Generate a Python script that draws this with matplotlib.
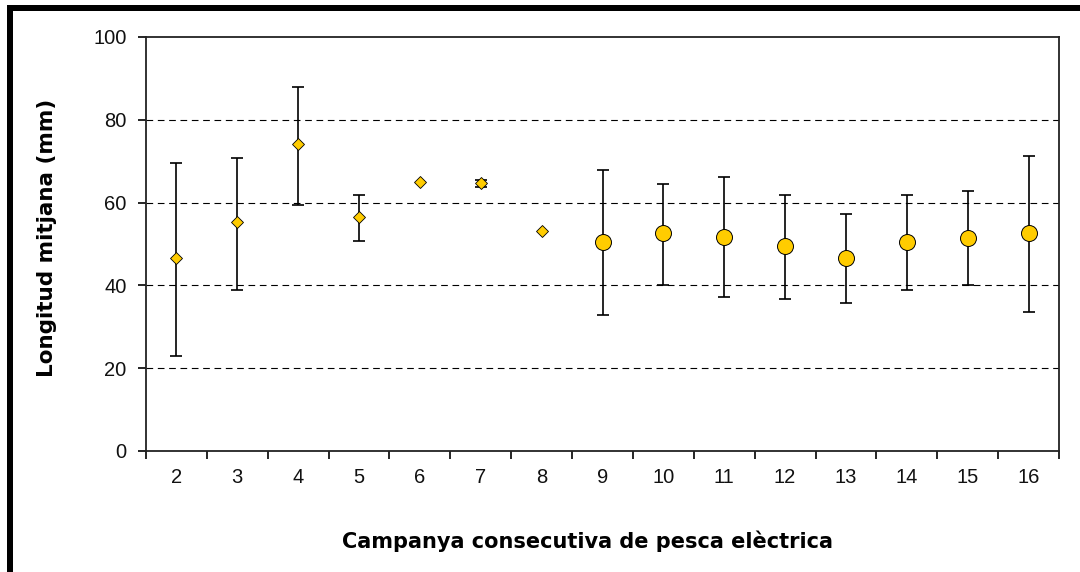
import numpy as np
import matplotlib
matplotlib.use("Agg")
import matplotlib.pyplot as plt
from matplotlib.patches import Rectangle

# campanyes i longitud mitjana (mm) amb extrems de les barres d'error
campanya = [2, 3, 4, 5, 6, 7, 8, 9, 10, 11, 12, 13, 14, 15, 16]
mitjana = [46.7, 55.2, 74.1, 56.5, 65.0, 64.7, 53.1, 50.6, 52.7, 51.8, 49.6, 46.7, 50.6, 51.4, 52.7]
superior = [69.5, 70.8, 88.0, 61.9, np.nan, 65.5, np.nan, 67.9, 64.5, 66.1, 61.9, 57.2, 61.9, 62.7, 71.3]
inferior = [23.0, 38.8, 59.3, 50.7, np.nan, 63.7, np.nan, 32.9, 40.1, 37.1, 36.7, 35.7, 38.9, 40.1, 33.6]

yticks = [0, 20, 40, 60, 80, 100]

mitjana = np.array(mitjana)
superior = np.array(superior)
inferior = np.array(inferior)
x = np.arange(len(campanya))

W, H = 1080, 572
fig = plt.figure(figsize=(W / 100, H / 100), dpi=100)
ax = fig.add_axes([146 / W, 1 - 451 / H, (1059 - 146) / W, (451 - 37) / H])

# gridlines
for v in yticks[1:-1]:
    ax.axhline(v, color="black", lw=0.8, ls=(0, (6, 4.2)), zorder=1)

ok = ~np.isnan(superior)
ax.errorbar(x[ok], mitjana[ok],
            yerr=[mitjana[ok] - inferior[ok], superior[ok] - mitjana[ok]],
            fmt="none", ecolor="black", elinewidth=1.2, capsize=4.5, capthick=1.2, zorder=2)

petit = np.array(campanya) < 9
ax.plot(x[petit], mitjana[petit], ls="none", marker="D", ms=6.5,
        mfc="#FFCC00", mec="black", mew=0.6, zorder=3)
ax.plot(x[~petit], mitjana[~petit], ls="none", marker="o", ms=11.5,
        mfc="#FFCC00", mec="black", mew=0.7, zorder=3)

ax.set_xlim(-0.5, len(campanya) - 0.5)
ax.set_ylim(0, 100)
ax.set_yticks(yticks)
ax.set_xticks(x)
ax.set_xticklabels([str(c) for c in campanya])
ax.set_xticks(np.arange(len(campanya) + 1) - 0.5, minor=True)
ax.tick_params(axis="x", which="major", length=0, pad=12)
ax.tick_params(axis="x", which="minor", length=6, width=1.2, direction="out")
ax.tick_params(axis="y", length=6, width=1.2, direction="out", pad=8)
for lab in ax.get_xticklabels() + ax.get_yticklabels():
    lab.set_fontfamily("Liberation Sans")
    lab.set_fontsize(14.5)
    lab.set_color("#111111")

for s in ax.spines.values():
    s.set_linewidth(1.3)
    s.set_color("#222222")

fig.text(588 / W, 1 - 541 / H, "Campanya consecutiva de pesca elèctrica", fontsize=15,
         fontweight="bold", family="DejaVu Sans", ha="center", va="center")
fig.text(47 / W, 1 - 238 / H, "Longitud mitjana (mm)", fontsize=15.5, fontweight="bold",
         family="DejaVu Sans", ha="center", va="center", rotation=90)

# black frame at top and left of the picture
fig.add_artist(Rectangle((7 / W, 0), 6 / W, 1 - 5 / H, transform=fig.transFigure,
                         color="black", lw=0))
fig.add_artist(Rectangle((7 / W, 1 - 11 / H), 1, 6 / H, transform=fig.transFigure,
                         color="black", lw=0))

fig.savefig("out.png", dpi=100)
